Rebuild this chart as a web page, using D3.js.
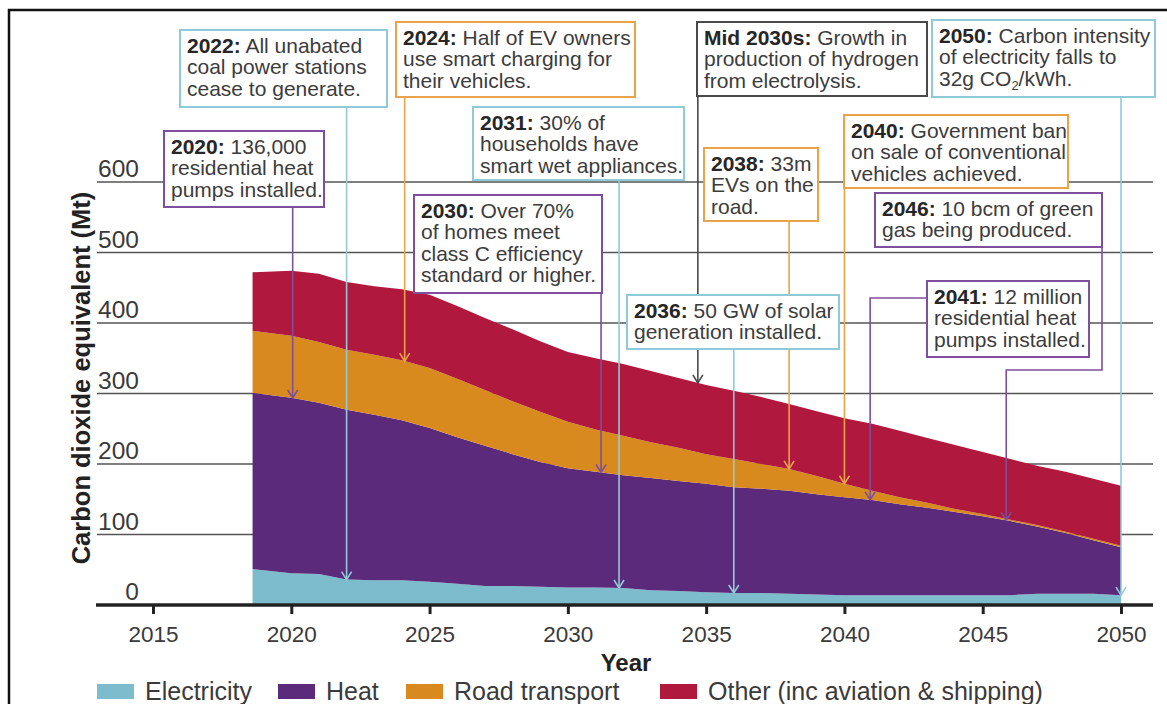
<!DOCTYPE html>
<html>
<head>
<meta charset="utf-8">
<script src="https://cdn.jsdelivr.net/npm/d3@7"></script>
<style>
  body { margin: 0; background: #fff; }
  #chart { width: 1167px; height: 704px; overflow: hidden; }
  text { font-family: "Liberation Sans", Arial, Helvetica, sans-serif; }
</style>
</head>
<body>
<div id="chart"></div>
<script>
// ---- data (Mt CO2e) ----
const years = [2018.6, 2020, 2021, 2022, 2023, 2024, 2025, 2026, 2027, 2028, 2029, 2030, 2031, 2032, 2033, 2034,
  2035, 2036, 2037, 2038, 2039, 2040, 2041, 2042, 2043, 2044, 2045, 2046, 2047, 2048, 2049, 2050];
const electricity = [51, 45, 44, 36, 35, 35, 33, 30, 27, 27, 26, 25, 25, 24, 21, 20,
  18, 17, 17, 16, 15, 14, 14, 14, 14, 14, 14, 14, 16, 16, 16, 14];
const heat = [250, 249, 243, 241, 235, 227, 218, 208, 199, 187, 177, 169, 164, 160, 159, 156,
  154, 150, 148, 146, 142, 139, 135, 129, 124, 118, 112, 105, 95, 86, 76, 68];
const roadTransport = [88, 88, 86, 85, 85, 85, 85, 83, 79, 75, 71, 66, 60, 56, 51, 47,
  42, 40, 35, 31, 26, 19, 13, 10, 7, 4, 3, 2, 2, 2, 2, 2];
const other = [83, 92, 97, 96, 97, 101, 104, 103, 102, 102, 100, 99, 101, 102, 101, 99,
  98, 97, 95, 92, 92, 93, 95, 94, 92, 91, 88, 86, 84, 85, 85, 85];

const seriesNames = ["Electricity", "Heat", "Road transport", "Other (inc aviation & shipping)"];
const xTicks = [2015, 2020, 2025, 2030, 2035, 2040, 2045, 2050];
const yTicks = [0, 100, 200, 300, 400, 500, 600];

// milestones: which layer the arrow points at, and the year it lands on
const notes = [
  { bold: "2022:", lines: ["All unabated", "coal power stations", "cease to generate."], layer: 0, year: 2022, kind: "blue" },
  { bold: "2024:", lines: ["Half of EV owners", "use smart charging for", "their vehicles."], layer: 2, year: 2024.1, kind: "orange" },
  { bold: "Mid 2030s:", lines: ["Growth in", "production of hydrogen", "from electrolysis."], layer: 3, year: 2034.7, kind: "dark" },
  { bold: "2050:", lines: ["Carbon intensity", "of electricity falls to", "32g CO{2}/kWh."], layer: 0, year: 2050, kind: "blue" },
  { bold: "2020:", lines: ["136,000", "residential heat", "pumps installed."], layer: 1, year: 2020.05, kind: "purple" },
  { bold: "2031:", lines: ["30% of", "households have", "smart wet appliances."], layer: 0, year: 2031.85, kind: "blue" },
  { bold: "2030:", lines: ["Over 70%", "of homes meet", "class C efficiency", "standard or higher."], layer: 1, year: 2031.2, kind: "purple" },
  { bold: "2038:", lines: ["33m", "EVs on the", "road."], layer: 2, year: 2038, kind: "orange" },
  { bold: "2040:", lines: ["Government ban", "on sale of conventional", "vehicles achieved."], layer: 2, year: 2040, kind: "orange" },
  { bold: "2046:", lines: ["10 bcm of green", "gas being produced."], layer: 1, year: 2045.85, kind: "purple" },
  { bold: "2041:", lines: ["12 million", "residential heat", "pumps installed."], layer: 1, year: 2040.93, kind: "purple" },
  { bold: "2036:", lines: ["50 GW of solar", "generation installed."], layer: 0, year: 2036, kind: "blue" }
];

// box placement (pixels) and leader start points
const boxes = [
  { x: 180, y: 30, w: 207, h: 77 },
  { x: 396, y: 22, w: 239, h: 75 },
  { x: 697, y: 22, w: 230, h: 74 },
  { x: 932, y: 20, w: 223, h: 77 },
  { x: 164, y: 131, w: 160, h: 76 },
  { x: 473, y: 107, w: 211, h: 73 },
  { x: 414, y: 195, w: 188, h: 98 },
  { x: 704, y: 148, w: 114, h: 73 },
  { x: 844, y: 115, w: 224, h: 73 },
  { x: 875, y: 193, w: 227, h: 54 },
  { x: 927, y: 281, w: 162, h: 76 },
  { x: 627, y: 295, w: 212, h: 54 }
];
// extra bends for the routed leaders (index -> points before the final drop)
const bends = {
  9: [[1102, 247], [1102, 370]],
  10: [[927, 298]]
};

const colors = ["#7dbccd", "#5c2a7b", "#d98a1f", "#b1183d"];
const noteColors = { blue: "#8ecad8", orange: "#e9a44a", purple: "#7d4f9c", dark: "#4a4a4a" };

const width = 1167, height = 704;
const svg = d3.select("#chart").append("svg")
  .attr("width", width)
  .attr("height", height);

const x = d3.scaleLinear().domain([2015, 2050]).range([153, 1121]);
const y = d3.scaleLinear().domain([0, 600]).range([605, 182]);

const table = years.map((yr, i) => ({
  year: yr,
  [seriesNames[0]]: electricity[i],
  [seriesNames[1]]: heat[i],
  [seriesNames[2]]: roadTransport[i],
  [seriesNames[3]]: other[i]
}));
const stacked = d3.stack().keys(seriesNames)(table);

// outer frame
svg.append("path")
  .attr("d", "M9,704V10H1167")
  .attr("fill", "none")
  .attr("stroke", "#111")
  .attr("stroke-width", 2.5);

// gridlines + y labels
svg.append("g").selectAll("line")
  .data(yTicks.filter(d => d > 0))
  .join("line")
    .attr("x1", 97).attr("x2", 1153)
    .attr("y1", d => y(d)).attr("y2", d => y(d))
    .attr("stroke", "#555").attr("stroke-width", 1.6);

svg.append("g").selectAll("text")
  .data(yTicks)
  .join("text")
    .attr("x", 139)
    .attr("y", d => y(d) - 5)
    .attr("text-anchor", "end")
    .attr("font-size", 24.5)
    .attr("fill", "#3a3a3a")
    .text(d => d);

// stacked areas
const area = d3.area()
  .x(d => x(d.data.year))
  .y0(d => y(d[0]))
  .y1(d => y(d[1]));

svg.append("g").selectAll("path")
  .data(stacked)
  .join("path")
    .attr("d", area)
    .attr("fill", (d, i) => colors[i]);

// leader lines
const topAt = (layer, yr) => d3.scaleLinear().domain(years).range(stacked[layer].map(d => d[1]))(yr);
const line = d3.line();
const leaders = svg.append("g").attr("fill", "none").attr("stroke-width", 1.6);
notes.forEach((n, i) => {
  const b = boxes[i];
  const ax = x(n.year), ay = y(topAt(n.layer, n.year));
  let pts;
  if (bends[i]) {
    pts = bends[i].slice();
    const last = pts[pts.length - 1];
    pts.push([ax, last[1]]);
  } else {
    pts = [[ax, b.y + b.h]];
  }
  pts.push([ax, ay]);
  leaders.append("path")
    .attr("d", line(pts))
    .attr("stroke", noteColors[n.kind]);
  leaders.append("path")
    .attr("d", `M${ax - 5},${ay - 8}L${ax},${ay}L${ax + 5},${ay - 8}`)
    .attr("stroke", noteColors[n.kind]);
});

// boxes
notes.forEach((n, i) => {
  const b = boxes[i];
  const g = svg.append("g");
  g.append("rect")
    .attr("x", b.x).attr("y", b.y)
    .attr("width", b.w).attr("height", b.h)
    .attr("fill", "#fff")
    .attr("stroke", noteColors[n.kind])
    .attr("stroke-width", 2);
  const t = g.append("text")
    .attr("font-size", 21)
    .attr("fill", "#3c3c3c");
  n.lines.forEach((ln, j) => {
    const ty = b.y + 23 + j * 21.3;
    if (j === 0) {
      t.append("tspan").attr("x", b.x + 7).attr("y", ty)
        .attr("font-weight", "bold").attr("fill", "#262626").text(n.bold);
      t.append("tspan").text(" " + ln);
    } else if (ln.includes("{")) {
      const m = ln.match(/^(.*)\{(.*)\}(.*)$/);
      t.append("tspan").attr("x", b.x + 7).attr("y", ty).text(m[1]);
      t.append("tspan").attr("font-size", 13).attr("dy", 4).text(m[2]);
      t.append("tspan").attr("dy", -4).text(m[3]);
    } else {
      t.append("tspan").attr("x", b.x + 7).attr("y", ty).text(ln);
    }
  });
});

// x axis
const xAxis = d3.axisBottom(x)
  .tickValues(xTicks)
  .tickFormat(d3.format("d"))
  .tickSize(9)
  .tickPadding(12);

const gx = svg.append("g")
  .attr("transform", "translate(0,605)")
  .call(xAxis)
  .attr("font-family", null)
  .attr("font-size", null);
gx.select(".domain").remove();
gx.selectAll(".tick line").attr("stroke", "#222").attr("stroke-width", 3);
gx.selectAll(".tick text").attr("font-size", 22.5).attr("fill", "#3a3a3a");

svg.append("line")
  .attr("x1", 96).attr("x2", 1153)
  .attr("y1", 605).attr("y2", 605)
  .attr("stroke", "#222").attr("stroke-width", 3.5);

// axis titles
svg.append("text")
  .attr("x", 626).attr("y", 671)
  .attr("text-anchor", "middle")
  .attr("font-size", 24)
  .attr("font-weight", "bold")
  .attr("fill", "#222")
  .text("Year");

svg.append("text")
  .attr("transform", "translate(90,378) rotate(-90)")
  .attr("text-anchor", "middle")
  .attr("font-size", 25.5)
  .attr("font-weight", "bold")
  .attr("fill", "#222")
  .text("Carbon dioxide equivalent (Mt)");

// legend
const legendX = [97, 278, 406, 660];
const legend = svg.append("g").selectAll("g")
  .data(seriesNames)
  .join("g")
    .attr("transform", (d, i) => `translate(${legendX[i]},0)`);
legend.append("rect")
  .attr("y", 684).attr("width", 37).attr("height", 15)
  .attr("fill", (d, i) => colors[i]);
legend.append("text")
  .attr("x", 48).attr("y", 700)
  .attr("font-size", 25)
  .attr("fill", "#3a3a3a")
  .text(d => d);
</script>
</body>
</html>
